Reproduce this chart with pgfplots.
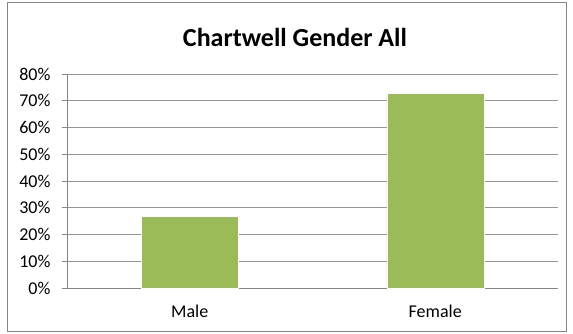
\documentclass[border=0pt]{standalone}
\usepackage{fontspec}
\setmainfont{Carlito}
\usepackage{pgfplots}
\pgfplotsset{compat=1.18}
\definecolor{bargreen}{RGB}{155,187,89}
\definecolor{axisgray}{RGB}{134,134,134}
\definecolor{gridgray}{RGB}{150,150,150}
\begin{document}
\begin{tikzpicture}
  \path (-67pt,-46pt) rectangle (506pt,288pt);
  \draw[axisgray, line width=0.8pt] (-60pt,-43pt) rectangle (499pt,286pt);
  \node[font=\fontsize{26}{30}\selectfont\bfseries] at (228pt,251pt) {Chartwell Gender All};
  \begin{axis}[
    at={(0pt,0pt)}, anchor=south west,
    scale only axis,
    width=491pt, height=214pt,
    ymin=0, ymax=80,
    ytick={0,10,...,80},
    yticklabel={\pgfmathprintnumber{\tick}\%},
    xmin=-0.5, xmax=1.5,
    xtick={0,1},
    xticklabels={Male, Female},
    ybar, bar width=97pt,
    axis line style={axisgray, line width=0.8pt},
    ymajorgrids,
    grid style={gridgray, line width=0.6pt},
    major tick length=5pt,
    tick style={axisgray, line width=0.8pt},
    xtick style={draw=none},
    tick align=outside,
    extra x ticks={-0.5,0.5,1.5},
    extra x tick labels={},
    extra x tick style={grid=none, tick style={axisgray, line width=0.8pt}, major tick length=5pt},
    axis x line*=bottom, axis y line*=left,
    ticklabel style={font=\fontsize{18}{21}\selectfont},
    /pgf/number format/assume math mode=true,
    yticklabel style={xshift=-8pt},
    xticklabel style={yshift=-8pt},
    clip=false,
  ]
    \addplot[fill=bargreen, draw=white, line width=0.4pt] coordinates {(0,26.8) (1,72.8)};
  \end{axis}
\end{tikzpicture}
\end{document}
